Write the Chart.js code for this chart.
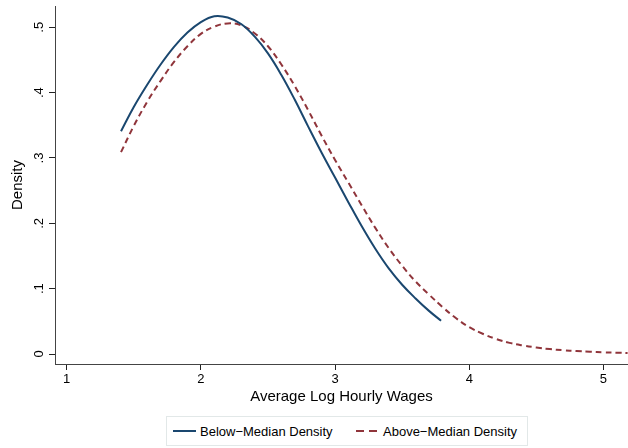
<!DOCTYPE html>
<html>
<head>
<meta charset="utf-8">
<script src="https://cdn.jsdelivr.net/npm/chart.js@4.4.1/dist/chart.umd.min.js"></script>
<style>
  html, body { margin: 0; padding: 0; background: #fff; }
  #wrap { position: relative; width: 628px; height: 448px; font-family: "Liberation Sans", Arial, Helvetica, sans-serif; }
  #legend { position: absolute; left: 166px; top: 416px; width: 360px; height: 28px; border: 1px solid #e2e8e8; background: #fff; }
  .item { position: absolute; top: 0; height: 28px; display: flex; align-items: center; font-size: 13px; color: #000; white-space: nowrap; }
  .swatch { width: 23px; height: 2px; margin-right: 4px; }
</style>
</head>
<body>
<div id="wrap">
  <canvas id="c" width="628" height="448"></canvas>
  <div id="legend"></div>
</div>
<script>
// ---- data ----
const belowX = [1.405, 1.5, 1.6, 1.7, 1.8, 1.9, 2.0, 2.1, 2.2, 2.3, 2.4, 2.5, 2.6, 2.7, 2.8, 2.9, 3.0, 3.1, 3.2, 3.3, 3.4, 3.5, 3.6, 3.7, 3.79];
const belowY = [0.341, 0.378, 0.412, 0.443, 0.470, 0.492, 0.508, 0.517, 0.515, 0.505, 0.486, 0.460, 0.427, 0.389, 0.348, 0.308, 0.270, 0.232, 0.195, 0.161, 0.131, 0.106, 0.085, 0.066, 0.051];

const aboveX = [1.405, 1.5, 1.6, 1.7, 1.8, 1.9, 2.0, 2.1, 2.2, 2.3, 2.4, 2.5, 2.6, 2.7, 2.8, 2.9, 3.0, 3.1, 3.2, 3.3, 3.4, 3.5, 3.6, 3.7, 3.8, 3.9, 4.0, 4.1, 4.2, 4.3, 4.4, 4.5, 4.6, 4.7, 4.8, 4.9, 5.0, 5.1, 5.18];
const aboveY = [0.309, 0.349, 0.386, 0.418, 0.447, 0.471, 0.490, 0.501, 0.506, 0.503, 0.491, 0.471, 0.443, 0.410, 0.373, 0.334, 0.297, 0.262, 0.227, 0.193, 0.162, 0.135, 0.111, 0.091, 0.072, 0.055, 0.041, 0.031, 0.023, 0.017, 0.013, 0.010, 0.0075, 0.0058, 0.0045, 0.0034, 0.0026, 0.0020, 0.0015];

const xTicks = [1, 2, 3, 4, 5];
const xTickLabels = ["1", "2", "3", "4", "5"];
const yTicks = [0, 0.1, 0.2, 0.3, 0.4, 0.5];
const yTickLabels = ["0", ".1", ".2", ".3", ".4", ".5"];

const seriesNames = ["Below\u2212Median Density", "Above\u2212Median Density"];
const xTitle = "Average Log Hourly Wages";
const yTitle = "Density";

// ---- styles ----
const BLUE = "#1a476f";
const RED = "#90353b";
const FONT = '"Liberation Sans", Arial, Helvetica, sans-serif';

const toPts = (xs, ys) => xs.map((x, i) => ({ x: x, y: ys[i] }));

const yLabelPlugin = {
  id: "yRotLabels",
  afterDraw(chart) {
    const s = chart.scales.y;
    const ctx = chart.ctx;
    ctx.save();
    ctx.font = "13px " + FONT;
    ctx.fillStyle = "#000";
    ctx.textAlign = "center";
    ctx.textBaseline = "alphabetic";
    yTicks.forEach((v, i) => {
      const py = s.getPixelForValue(v);
      ctx.save();
      ctx.translate(42.5, py);
      ctx.rotate(-Math.PI / 2);
      ctx.fillText(yTickLabels[i], 0, 0);
      ctx.restore();
    });
    ctx.restore();
  }
};

new Chart(document.getElementById("c"), {
  type: "line",
  data: {
    datasets: [
      { label: seriesNames[0], data: toPts(belowX, belowY), borderColor: BLUE, borderWidth: 2, pointRadius: 0, fill: false, tension: 0.4 },
      { label: seriesNames[1], data: toPts(aboveX, aboveY), borderColor: RED, borderWidth: 2, borderDash: [6, 4], pointRadius: 0, fill: false, tension: 0.4 }
    ]
  },
  options: {
    responsive: false,
    animation: false,
    layout: { padding: { left: 0, right: 0, top: 6, bottom: 40 } },
    plugins: { legend: { display: false }, tooltip: { enabled: false } },
    scales: {
      x: {
        type: "linear",
        min: 0.913,
        max: 5.183,
        afterBuildTicks: (s) => { s.ticks = xTicks.map(v => ({ value: v })); },
        afterFit: (s) => { s.height = 44; },
        ticks: {
          autoSkip: false, maxRotation: 0, padding: 2,
          color: "#000", font: { family: FONT, size: 13 },
          callback: (v) => { const i = xTicks.indexOf(v); return i >= 0 ? xTickLabels[i] : ""; }
        },
        grid: { drawOnChartArea: false, drawTicks: true, tickLength: 6, color: "#222", lineWidth: 1 },
        border: { display: true, color: "#444", width: 1 },
        title: { display: true, text: xTitle, color: "#000", font: { family: FONT, size: 15 }, padding: { top: 0, bottom: 2 } }
      },
      y: {
        type: "linear",
        min: -0.0153,
        max: 0.5326,
        afterBuildTicks: (s) => { s.ticks = yTicks.map(v => ({ value: v })); },
        afterFit: (s) => { s.width = 55; },
        ticks: { display: false },
        grid: { drawOnChartArea: false, drawTicks: true, tickLength: 6, color: "#222", lineWidth: 1 },
        border: { display: true, color: "#444", width: 1 },
        title: { display: true, text: yTitle, color: "#000", font: { family: FONT, size: 15 }, padding: { top: 9, bottom: 0 } }
      }
    }
  },
  plugins: [yLabelPlugin]
});

// ---- legend (HTML) ----
const legend = document.getElementById("legend");
const legendItems = [
  { name: seriesNames[0], bg: BLUE, left: 6 },
  { name: seriesNames[1], bg: "repeating-linear-gradient(to right, " + RED + " 0 8px, transparent 8px 13px)", left: 189 }
];
legendItems.forEach(it => {
  const d = document.createElement("div");
  d.className = "item";
  d.style.left = it.left + "px";
  const sw = document.createElement("span");
  sw.className = "swatch";
  sw.style.background = it.bg;
  const t = document.createElement("span");
  t.textContent = it.name;
  d.appendChild(sw);
  d.appendChild(t);
  legend.appendChild(d);
});
</script>
</body>
</html>
